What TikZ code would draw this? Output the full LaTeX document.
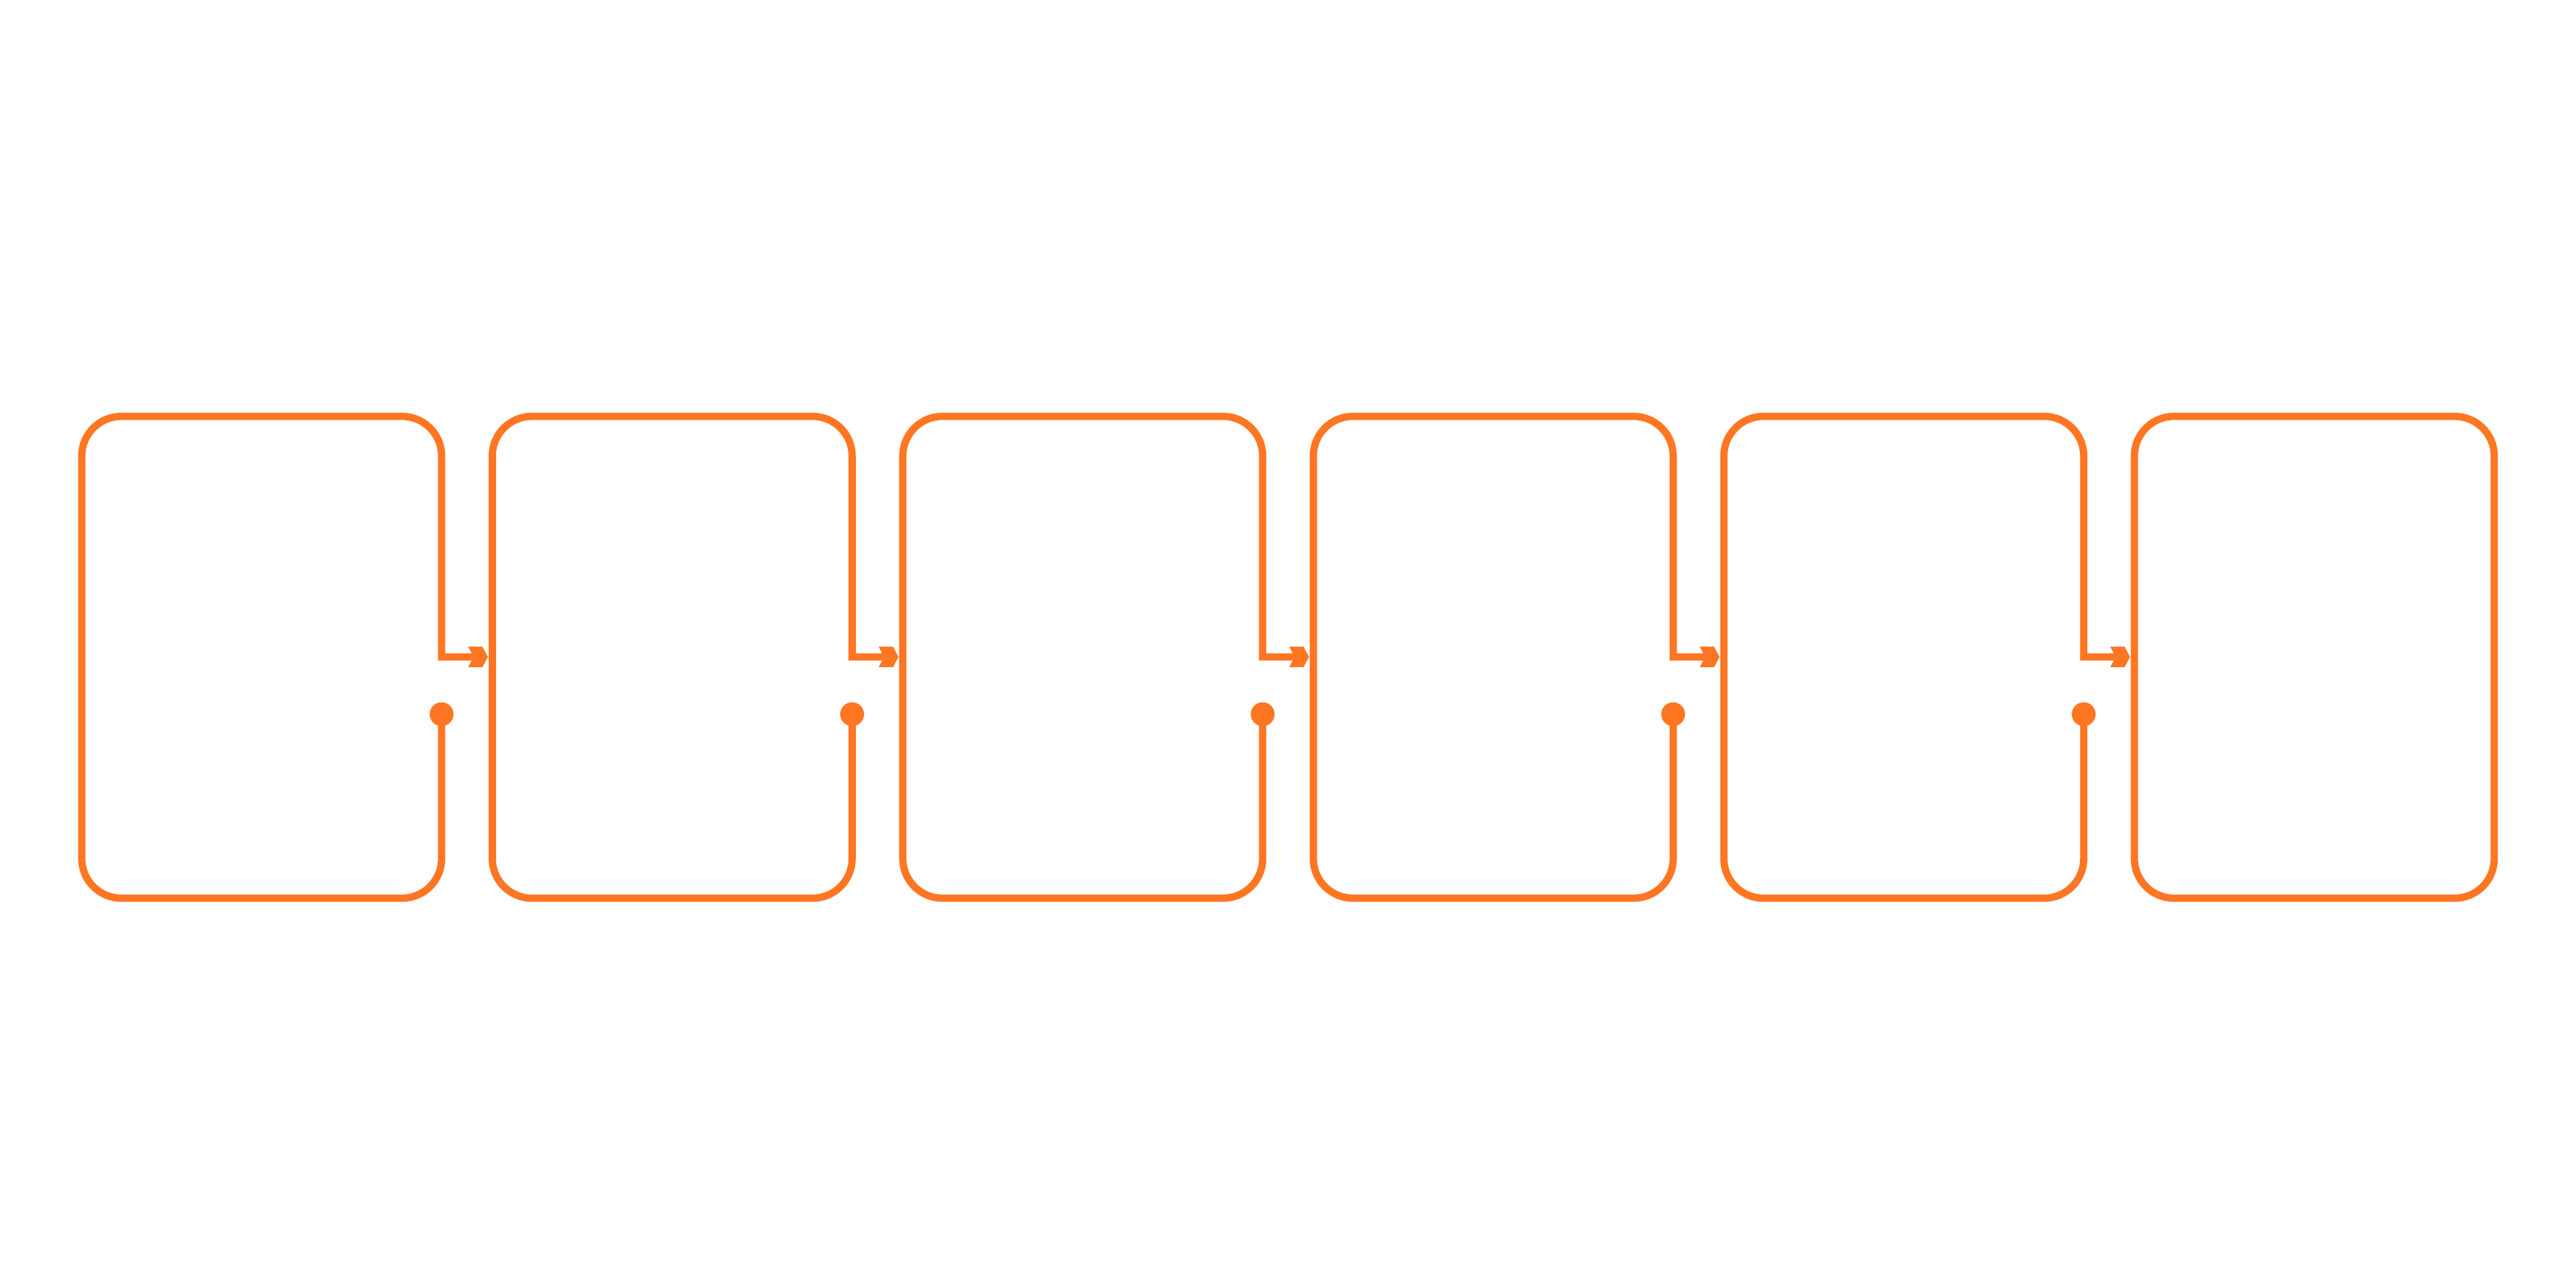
\documentclass[tikz,border=0pt]{standalone}
\begin{document}
\definecolor{flow}{RGB}{255,118,34}
\tikzset{
  boxline/.style={draw=flow, line width=0.107cm, line join=miter},
  headfill/.style={fill=flow, draw=none},
  dotfill/.style={fill=flow, draw=none}
}
\begin{tikzpicture}
\fill[white] (0,0) rectangle (37.8,18.9);
\useasboundingbox (0,0) rectangle (37.8,18.9);
\def\rr{0.58}
\def\yb{5.72}
\def\yt{12.79}
\def\ya{9.26}
\def\yd{8.42}
\foreach \i in {0,...,4}{
  \pgfmathsetmacro{\L}{1.2+\i*6.024}
  \pgfmathsetmacro{\R}{\L+5.28}
  \coordinate (dot\i) at (\R,\yd);
  \coordinate (bend\i) at (\R,\ya);
  \coordinate (end\i) at (\R+0.47,\ya);
  \draw[boxline] (dot\i) -- (\R,\yb+\rr)
     arc[start angle=0,end angle=-90,radius=\rr] -- (\L+\rr,\yb)
     arc[start angle=270,end angle=180,radius=\rr] -- (\L,\yt-\rr)
     arc[start angle=180,end angle=90,radius=\rr] -- (\R-\rr,\yt)
     arc[start angle=90,end angle=0,radius=\rr] -- (bend\i) -- (end\i);
  \fill[dotfill] (dot\i) circle[radius=0.175];
  \fill[headfill] (\R+0.39,\ya+0.15) -- (\R+0.60,\ya+0.15) -- (\R+0.68,\ya)
     -- (\R+0.60,\ya-0.15) -- (\R+0.39,\ya-0.15) -- (\R+0.47,\ya) -- cycle;
}
\draw[boxline, rounded corners=0.58cm] (31.32,\yb) rectangle (36.6,\yt);
\end{tikzpicture}
\end{document}
